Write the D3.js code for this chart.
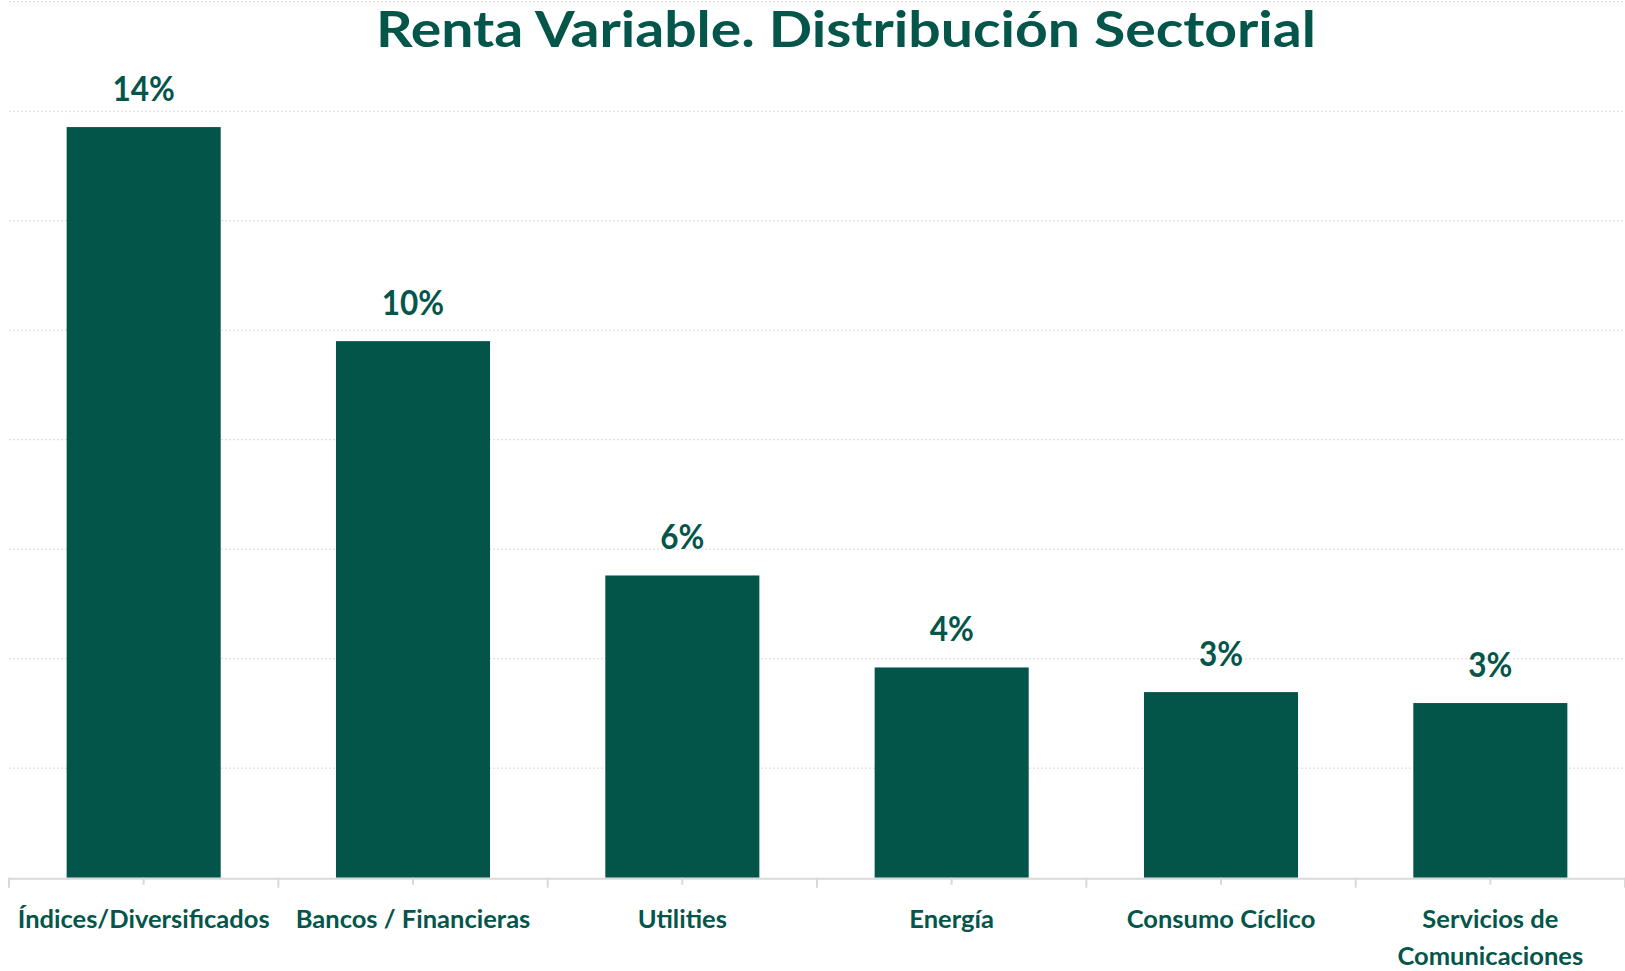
<!DOCTYPE html>
<html lang="es">
<head>
    <meta charset="UTF-8">
    <title>Renta Variable. Distribución Sectorial</title>
    <script src="https://d3js.org/d3.v7.min.js"></script>
    <style>
        body {
            margin: 0;
            background: #ffffff;
        }
        svg text {
            font-family: Lato, 'Open Sans', sans-serif;
            font-weight: 700;
            fill: #04554a;
        }
    </style>
</head>
<body>
    <svg></svg>

    <script>
        const width = 1625;
        const height = 971;

        // Data
        const categories = ["Índices/Diversificados", "Bancos / Financieras", "Utilities", "Energía", "Consumo Cíclico", "Servicios de Comunicaciones"];
        const values = [0.1371, 0.0980, 0.0552, 0.0384, 0.0339, 0.0319];
        const yTicks = [0.02, 0.04, 0.06, 0.08, 0.10, 0.12, 0.14, 0.16];
        const title = "Renta Variable. Distribución Sectorial";

        const barColor = "#03554a";
        const gridColor = "#d9d9d9";
        const squeeze = 0.9; // value labels only, original font is condensed

        const svg = d3.select("svg")
            .attr("width", width)
            .attr("height", height);

        const x = d3.scaleBand()
            .domain(categories)
            .range([9, width])
            .paddingInner(0.428)
            .paddingOuter(0.214);

        const y = d3.scaleLinear()
            .domain([0, 0.16])
            .range([877.7, 1.7]);

        const fmt = d3.format(".0%");

        // Gridlines
        svg.append("g")
            .selectAll("line")
            .data(yTicks)
            .join("line")
            .attr("x1", 9)
            .attr("x2", width)
            .attr("y1", d => y(d))
            .attr("y2", d => y(d))
            .attr("stroke", gridColor)
            .attr("stroke-width", 1)
            .attr("stroke-dasharray", "2,2");

        // Bars
        svg.append("g")
            .selectAll("rect")
            .data(values)
            .join("rect")
            .attr("x", (d, i) => x(categories[i]))
            .attr("y", d => y(d))
            .attr("width", x.bandwidth())
            .attr("height", d => y(0) - y(d))
            .attr("fill", barColor);

        // X axis line + ticks (boundaries long, centers short)
        const step = x.step();
        const axis = svg.append("g");
        axis.append("line")
            .attr("x1", 9)
            .attr("x2", width)
            .attr("y1", y(0) + 1)
            .attr("y2", y(0) + 1)
            .attr("stroke", gridColor)
            .attr("stroke-width", 2);
        axis.selectAll(".tick-b")
            .data(d3.range(categories.length + 1))
            .join("line")
            .attr("class", "tick-b")
            .attr("x1", i => 9 + i * step)
            .attr("x2", i => 9 + i * step)
            .attr("y1", y(0))
            .attr("y2", y(0) + 10)
            .attr("stroke", gridColor)
            .attr("stroke-width", 2);
        axis.selectAll(".tick-c")
            .data(categories)
            .join("line")
            .attr("class", "tick-c")
            .attr("x1", d => x(d) + x.bandwidth() / 2)
            .attr("x2", d => x(d) + x.bandwidth() / 2)
            .attr("y1", y(0))
            .attr("y2", y(0) + 7)
            .attr("stroke", gridColor)
            .attr("stroke-width", 2);

        // Value labels
        svg.append("g")
            .selectAll("text")
            .data(values)
            .join("text")
            .attr("transform", (d, i) => `translate(${x(categories[i]) + x.bandwidth() / 2},${y(d) - 26.5}) scale(${squeeze},1)`)
            .attr("text-anchor", "middle")
            .style("font-size", "35px")
            .text(d => fmt(d));

        // Category labels, wrapped when wider than a band
        const catG = svg.append("g");
        categories.forEach(c => {
            const cx = x(c) + x.bandwidth() / 2;
            const t = catG.append("text")
                .attr("transform", `translate(${cx},928)`)
                .attr("text-anchor", "middle")
                .style("font-size", "25.5px");
            const words = c.split(" ");
            let line = [];
            let tspan = t.append("tspan").attr("x", 0).attr("dy", 0);
            words.forEach(w => {
                line.push(w);
                tspan.text(line.join(" "));
                if (tspan.node().getComputedTextLength() > step - 10 && line.length > 1) {
                    line.pop();
                    tspan.text(line.join(" "));
                    line = [w];
                    tspan = t.append("tspan").attr("x", 0).attr("dy", 37).text(w);
                }
            });
        });

        // Title
        svg.append("text")
            .attr("x", 846)
            .attr("y", 47.3)
            .attr("text-anchor", "middle")
            .attr("textLength", 940)
            .attr("lengthAdjust", "spacingAndGlyphs")
            .style("font-size", "49px")
            .text(title);
    </script>
</body>
</html>
